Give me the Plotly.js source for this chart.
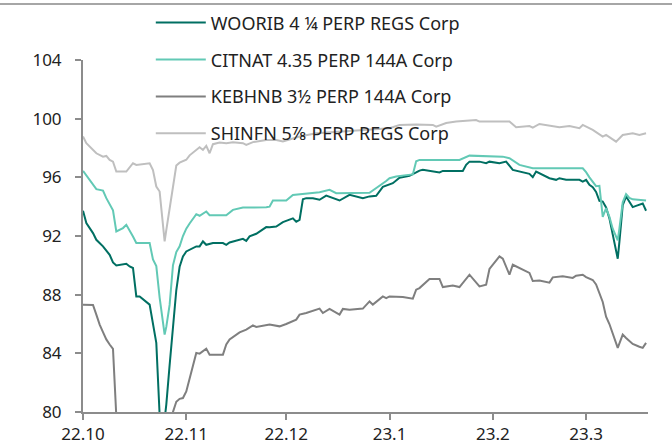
<!DOCTYPE html>
<html>
<head>
<meta charset="utf-8">
<script src="https://cdn.plot.ly/plotly-3.0.1.min.js"></script>
<style>
  html, body { margin: 0; padding: 0; background: #fff; }
  #wrap { position: relative; width: 672px; height: 447px; }
  #topline { position: absolute; left: 0; top: 3px; width: 672px; height: 2px; background: #a6a6a6; z-index: 5; }
  #chart { position: absolute; left: 0; top: 0; width: 672px; height: 447px; }
</style>
</head>
<body>
<div id="wrap"><div id="topline"></div><div id="chart"></div></div>
<script>
// ---- Data ----
const seriesNames = [
  "WOORIB 4 ¼ PERP REGS Corp",
  "CITNAT 4.35 PERP 144A Corp",
  "KEBHNB 3½ PERP 144A Corp",
  "SHINFN 5⅞ PERP REGS Corp"
];

const woorib_dates = ["2022-10-01","2022-10-02","2022-10-04","2022-10-05","2022-10-07","2022-10-09","2022-10-10","2022-10-11","2022-10-14","2022-10-15","2022-10-16","2022-10-17","2022-10-18","2022-10-20","2022-10-21","2022-10-23","2022-10-24","2022-10-25","2022-10-26","2022-10-27","2022-10-28","2022-10-29","2022-10-30","2022-10-31","2022-11-01","2022-11-02","2022-11-04","2022-11-05","2022-11-06","2022-11-07","2022-11-09","2022-11-12","2022-11-13","2022-11-14","2022-11-18","2022-11-19","2022-11-20","2022-11-22","2022-11-25","2022-11-26","2022-11-28","2022-11-30","2022-12-02","2022-12-03","2022-12-04","2022-12-05","2022-12-06","2022-12-07","2022-12-09","2022-12-11","2022-12-13","2022-12-17","2022-12-20","2022-12-24","2022-12-26","2022-12-28","2022-12-30","2023-01-02","2023-01-04","2023-01-07","2023-01-09","2023-01-10","2023-01-11","2023-01-13","2023-01-16","2023-01-17","2023-01-23","2023-01-24","2023-01-25","2023-01-28","2023-01-30","2023-01-31","2023-02-03","2023-02-05","2023-02-07","2023-02-12","2023-02-13","2023-02-14","2023-02-18","2023-02-20","2023-02-21","2023-02-23","2023-02-27","2023-02-28","2023-03-01","2023-03-02","2023-03-03","2023-03-04","2023-03-05","2023-03-06","2023-03-07","2023-03-08","2023-03-09","2023-03-10 12:00","2023-03-11","2023-03-12","2023-03-13","2023-03-14","2023-03-15","2023-03-16","2023-03-17","2023-03-18","2023-03-19"];
const woorib_values = [93.72,92.88,92.2,91.74,91.29,90.72,90.2,89.99,90.11,89.92,89.82,87.88,87.88,87.54,87.32,84.71,79.8,78.5,80.5,83.2,85.7,88.3,89.9,90.6,90.95,91.06,91.29,91.29,91.63,91.4,91.52,91.52,91.4,91.56,91.81,91.67,91.97,92.15,92.61,92.6,92.65,92.95,93.15,93.2,92.97,93.1,94.5,94.58,94.58,94.47,94.75,94.42,94.81,94.58,94.7,94.74,95.35,95.6,95.97,96.1,96.33,96.46,96.51,96.44,96.33,96.44,96.44,96.85,97.07,97.07,96.96,97.07,96.96,97.07,96.51,96.24,96.01,96.39,95.94,95.83,95.94,95.83,95.83,95.71,95.83,95.49,95.33,95.0,94.4,94.35,93.95,93.2,92.1,90.45,91.6,94.1,94.69,94.3,93.97,94.05,94.12,94.22,93.72];

const citnat_dates = ["2022-10-01","2022-10-03","2022-10-05","2022-10-07","2022-10-08","2022-10-10","2022-10-11","2022-10-13","2022-10-14","2022-10-16","2022-10-17","2022-10-21","2022-10-22","2022-10-23","2022-10-24","2022-10-25 12:00","2022-10-26","2022-10-27","2022-10-28","2022-10-29","2022-10-30","2022-10-31","2022-11-01","2022-11-02","2022-11-03","2022-11-04","2022-11-05","2022-11-07","2022-11-08","2022-11-13","2022-11-15","2022-11-18","2022-11-25","2022-11-26","2022-11-27","2022-12-01","2022-12-03","2022-12-06","2022-12-11","2022-12-14","2022-12-16","2022-12-26","2022-12-27","2022-12-29","2022-12-31","2023-01-01","2023-01-03","2023-01-06","2023-01-08","2023-01-09","2023-01-10","2023-01-22","2023-01-23","2023-01-25","2023-02-04","2023-02-06","2023-02-09","2023-02-13","2023-02-28","2023-03-01","2023-03-02","2023-03-03","2023-03-04","2023-03-05","2023-03-06","2023-03-07","2023-03-08","2023-03-09","2023-03-10 12:00","2023-03-11","2023-03-12","2023-03-13","2023-03-14","2023-03-15","2023-03-19"];
const citnat_values = [96.44,95.83,95.19,95.1,94.58,93.75,92.31,92.54,92.76,91.97,91.52,91.52,90.4,89.95,87.8,85.28,85.8,87.3,90.0,90.9,91.3,92.0,92.5,92.85,93.2,93.49,93.38,93.67,93.42,93.42,93.78,93.94,93.96,94.0,94.42,94.42,94.8,94.87,94.99,95.15,94.92,94.95,95.1,95.4,95.75,95.94,96.05,96.15,96.2,97.1,97.19,97.19,97.3,97.48,97.41,97.3,96.85,96.62,96.62,96.35,96.0,95.7,95.4,95.42,93.3,93.9,93.3,92.5,91.7,92.5,94.3,94.85,94.6,94.5,94.42];

const kebhnb_dates = ["2022-10-01","2022-10-04","2022-10-05","2022-10-06","2022-10-07","2022-10-08","2022-10-09","2022-10-10","2022-10-11","2022-10-12","2022-10-20","2022-10-27","2022-10-28","2022-10-29","2022-10-30","2022-10-31","2022-11-01","2022-11-04","2022-11-05","2022-11-07","2022-11-08","2022-11-12","2022-11-13","2022-11-14","2022-11-17","2022-11-19","2022-11-21","2022-11-22","2022-11-26","2022-11-29","2022-12-01","2022-12-04","2022-12-05","2022-12-07","2022-12-11","2022-12-12","2022-12-14","2022-12-17","2022-12-18","2022-12-20","2022-12-24","2022-12-26","2022-12-27","2022-12-30","2022-12-31","2023-01-01","2023-01-05","2023-01-08","2023-01-09","2023-01-10","2023-01-13","2023-01-16","2023-01-17","2023-01-20","2023-01-22","2023-01-25","2023-01-28","2023-01-30","2023-01-31","2023-02-03","2023-02-04","2023-02-06","2023-02-07","2023-02-12","2023-02-13","2023-02-15","2023-02-18","2023-02-19","2023-02-22","2023-02-25","2023-02-26","2023-02-28","2023-03-01","2023-03-03","2023-03-04","2023-03-05","2023-03-06","2023-03-07","2023-03-08","2023-03-10 12:00","2023-03-12","2023-03-13","2023-03-15","2023-03-17","2023-03-18","2023-03-19"];
const kebhnb_values = [87.32,87.3,86.64,85.96,85.45,84.95,84.6,84.3,79.7,77.5,77.2,78.0,80.0,80.7,80.9,80.95,81.4,84.03,83.98,84.32,83.91,83.91,84.6,84.94,85.43,85.62,85.91,85.8,85.96,85.84,86.0,86.3,86.64,86.75,87.05,86.75,87.03,86.64,87.03,86.98,87.05,87.54,87.32,87.88,87.77,87.88,87.84,87.73,88.34,88.45,89.07,89.07,88.52,88.63,88.52,89.36,88.56,88.68,89.75,90.61,90.45,89.36,90.04,89.48,88.93,88.97,88.82,89.18,89.25,89.14,89.29,89.36,89.2,89.0,88.7,88.14,87.5,86.5,86.0,84.37,85.28,85.05,84.64,84.45,84.37,84.71];

const shinfn_dates = ["2022-10-01","2022-10-02","2022-10-05","2022-10-07","2022-10-08","2022-10-09","2022-10-10","2022-10-11","2022-10-14","2022-10-16","2022-10-17","2022-10-19","2022-10-21","2022-10-22","2022-10-23","2022-10-24","2022-10-25 12:00","2022-10-26","2022-10-27","2022-10-28","2022-10-29","2022-10-30","2022-11-01","2022-11-02","2022-11-04","2022-11-05","2022-11-06","2022-11-07","2022-11-08","2022-11-09","2022-11-11","2022-11-13","2022-11-15","2022-11-18","2022-11-19","2022-11-21","2022-11-25","2022-11-28","2022-11-30","2022-12-05","2022-12-10","2022-12-17","2022-12-23","2023-01-01","2023-01-04","2023-01-09","2023-01-14","2023-01-15","2023-01-18","2023-01-21","2023-01-27","2023-01-28","2023-02-06","2023-02-08","2023-02-12","2023-02-13","2023-02-15","2023-02-18","2023-02-21","2023-02-24","2023-02-27","2023-02-28","2023-03-03","2023-03-06","2023-03-07","2023-03-10","2023-03-12","2023-03-15","2023-03-17","2023-03-19"];
const shinfn_values = [98.78,98.33,97.64,97.41,97.46,97.19,97.07,96.39,96.39,96.96,96.85,96.9,96.96,96.5,95.37,95.03,91.63,92.4,93.9,95.6,96.8,97.0,97.2,97.5,97.9,98.05,97.87,98.14,97.64,98.26,98.37,98.33,98.39,98.33,98.21,98.4,98.55,98.55,98.45,98.78,99.0,99.1,99.2,99.35,99.57,99.6,99.57,99.46,99.7,99.8,99.91,99.8,99.8,99.41,99.5,99.39,99.64,99.52,99.41,99.5,99.35,99.57,99.23,98.78,98.89,98.43,98.89,99.0,98.89,99.0];

const yTicks = [80, 84, 88, 92, 96, 100, 104];
const xRange = ["2022-10-01", "2023-03-19 14:00"];

// ---- Styles ----
const colors = ["#006f62", "#62c9b5", "#7f7f7f", "#bfbfbf"];
const FONT = "Noto Sans, Open Sans, sans-serif";

const xs = [woorib_dates, citnat_dates, kebhnb_dates, shinfn_dates];
const ys = [woorib_values, citnat_values, kebhnb_values, shinfn_values];

const traces = seriesNames.map((n, i) => ({
  type: "scatter",
  mode: "lines",
  name: n,
  x: xs[i],
  y: ys[i],
  legendgroup: "g" + i,
  line: { color: colors[i], width: 2 },
  hoverinfo: "x+y+name"
}));

const layout = {
  width: 672,
  height: 447,
  margin: { l: 83, r: 24, t: 60, b: 35, autoexpand: false },
  paper_bgcolor: "#ffffff",
  plot_bgcolor: "#ffffff",
  font: { family: FONT, size: 16, color: "#222222" },
  showlegend: true,
  legend: {
    x: 0.12, xanchor: "left",
    y: 1.158, yanchor: "top",
    bgcolor: "rgba(0,0,0,0)",
    traceorder: "grouped",
    tracegroupgap: 10.5,
    itemwidth: 50,
    font: { family: FONT, size: 18, color: "#222222" }
  },
  xaxis: {
    type: "date",
    range: xRange,
    dtick: "M1",
    tick0: "2022-10-01",
    tickformat: "%y.%-m",
    showgrid: false,
    zeroline: false,
    showline: true,
    linecolor: "#8c8c8c",
    linewidth: 2,
    ticks: "outside",
    ticklen: 6,
    tickwidth: 2,
    tickcolor: "#8c8c8c",
    tickfont: { family: FONT, size: 17, color: "#222222" }
  },
  yaxis: {
    range: [80, 104],
    tickvals: yTicks,
    ticktext: yTicks.map(String),
    showgrid: false,
    zeroline: false,
    showline: true,
    linecolor: "#8c8c8c",
    linewidth: 2,
    ticks: "outside",
    ticklen: 6,
    tickwidth: 2,
    tickcolor: "#8c8c8c",
    ticklabelstandoff: 10,
    tickfont: { family: FONT, size: 17, color: "#222222" }
  }
};

Plotly.newPlot("chart", traces, layout, { displayModeBar: false, staticPlot: true });
</script>
</body>
</html>
